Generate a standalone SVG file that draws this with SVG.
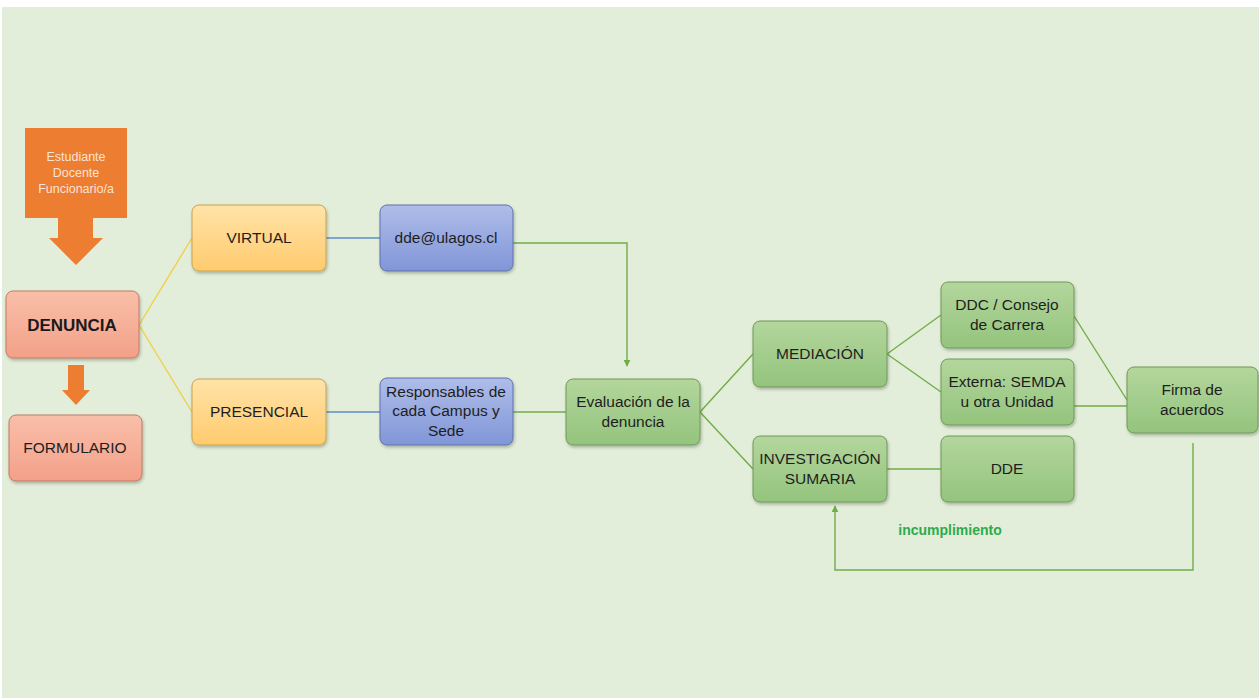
<svg xmlns="http://www.w3.org/2000/svg" width="1259" height="698" viewBox="0 0 1259 698">
<defs>
<linearGradient id="gS" x1="0" y1="0" x2="0" y2="1"><stop offset="0" stop-color="#F9BFA9"/><stop offset="1" stop-color="#F3A088"/></linearGradient>
<linearGradient id="gY" x1="0" y1="0" x2="0" y2="1"><stop offset="0" stop-color="#FFE3A8"/><stop offset="1" stop-color="#FFCB6E"/></linearGradient>
<linearGradient id="gB" x1="0" y1="0" x2="0" y2="1"><stop offset="0" stop-color="#AFBDE9"/><stop offset="1" stop-color="#8196D8"/></linearGradient>
<linearGradient id="gG" x1="0" y1="0" x2="0" y2="1"><stop offset="0" stop-color="#B3D69C"/><stop offset="1" stop-color="#94C47D"/></linearGradient>
<filter id="sh" x="-10%" y="-10%" width="130%" height="140%"><feDropShadow dx="1" dy="2" stdDeviation="1.5" flood-color="#000" flood-opacity="0.25"/></filter>
<marker id="ah" viewBox="0 0 10 10" refX="9" refY="5" markerWidth="5" markerHeight="5" orient="auto"><path d="M0,0 L10,5 L0,10 z" fill="#70AD47"/></marker>
</defs>
<style>
.t{font-family:"Liberation Sans",Arial,sans-serif;font-size:15.5px;fill:#1e1e1e;text-anchor:middle}
.b{stroke-width:1}
.s{fill:url(#gS);stroke:#C07A62}
.y{fill:url(#gY);stroke:#C9A24E}
.bl{fill:url(#gB);stroke:#5D70AE}
.g{fill:url(#gG);stroke:#6F9858}
.c{fill:none;stroke-width:1.4}
</style>
<rect x="0" y="0" width="1259" height="698" fill="#FFFFFF"/>
<rect x="2" y="7" width="1257" height="691" fill="#E2EED9"/>

<g id="connectors">
<line class="c" x1="139" y1="325" x2="192" y2="238" stroke="#F2CF4A"/>
<line class="c" x1="139" y1="325" x2="192" y2="412" stroke="#F2CF4A"/>
<line class="c" x1="326" y1="238" x2="380" y2="238" stroke="#5B8FC4"/>
<line class="c" x1="326" y1="412" x2="380" y2="412" stroke="#5B8FC4"/>
<polyline class="c" points="513,243 627,243 627,366" stroke="#70AD47" marker-end="url(#ah)"/>
<line class="c" x1="513" y1="412" x2="566" y2="412" stroke="#70AD47"/>
<line class="c" x1="700" y1="412" x2="753" y2="354" stroke="#70AD47"/>
<line class="c" x1="700" y1="412" x2="753" y2="469" stroke="#70AD47"/>
<line class="c" x1="887" y1="354" x2="941" y2="315" stroke="#70AD47"/>
<line class="c" x1="887" y1="354" x2="941" y2="392" stroke="#70AD47"/>
<line class="c" x1="887" y1="469" x2="941" y2="469" stroke="#70AD47"/>
<line class="c" x1="1074" y1="316" x2="1127" y2="400" stroke="#70AD47"/>
<line class="c" x1="1074" y1="406" x2="1127" y2="406" stroke="#70AD47"/>
<polyline class="c" points="1193,443 1193,570 835,570 835,506" stroke="#70AD47" marker-end="url(#ah)"/>
<text x="950" y="535" style="font-family:'Liberation Sans',Arial,sans-serif;font-size:14px;font-weight:bold;fill:#2EAA4E;text-anchor:middle">incumplimiento</text>
</g>

<g id="actors">
<path d="M25,128 H127 V218 H93 V238 H103 L76,265 L49,238 H58 V218 H25 Z" fill="#ED7D31"/>
<text class="t" x="76" y="161" style="font-size:12.5px;fill:#FBE3D4">Estudiante</text>
<text class="t" x="76" y="177" style="font-size:12.5px;fill:#FBE3D4">Docente</text>
<text class="t" x="76" y="193" style="font-size:12.5px;fill:#FBE3D4">Funcionario/a</text>
</g>

<g id="denuncia">
<rect class="s b" x="6" y="291" width="133" height="67" rx="7" filter="url(#sh)"/>
<text class="t" x="72" y="331" style="font-weight:bold;font-size:17px;fill:#1a1a1a">DENUNCIA</text>
</g>
<g id="arrow-formulario">
<path d="M68,365 H84 V390 H90 L76,405 L62,390 H68 Z" fill="#ED7D31"/>
</g>
<g id="formulario">
<rect class="s b" x="9" y="415" width="133" height="66" rx="7" filter="url(#sh)"/>
<text class="t" x="75" y="453">FORMULARIO</text>
</g>

<g id="virtual">
<rect class="y b" x="192" y="205" width="134" height="66" rx="7" filter="url(#sh)"/>
<text class="t" x="259" y="243">VIRTUAL</text>
</g>
<g id="presencial">
<rect class="y b" x="192" y="379" width="134" height="66" rx="7" filter="url(#sh)"/>
<text class="t" x="259" y="417">PRESENCIAL</text>
</g>
<g id="email">
<rect class="bl b" x="380" y="205" width="133" height="66" rx="7" filter="url(#sh)"/>
<text class="t" x="446" y="243">dde@ulagos.cl</text>
</g>
<g id="responsables">
<rect class="bl b" x="380" y="378" width="133" height="67" rx="7" filter="url(#sh)"/>
<text class="t" x="446" y="397">Responsables de</text>
<text class="t" x="446" y="416">cada Campus y</text>
<text class="t" x="446" y="436">Sede</text>
</g>
<g id="evaluacion">
<rect class="g b" x="566" y="379" width="134" height="66" rx="7" filter="url(#sh)"/>
<text class="t" x="633" y="407">Evaluación de la</text>
<text class="t" x="633" y="427">denuncia</text>
</g>
<g id="mediacion">
<rect class="g b" x="753" y="321" width="134" height="66" rx="7" filter="url(#sh)"/>
<text class="t" x="820" y="359">MEDIACIÓN</text>
</g>
<g id="investigacion">
<rect class="g b" x="753" y="436" width="134" height="66" rx="7" filter="url(#sh)"/>
<text class="t" x="820" y="464">INVESTIGACIÓN</text>
<text class="t" x="820" y="484">SUMARIA</text>
</g>
<g id="ddc">
<rect class="g b" x="941" y="282" width="133" height="66" rx="7" filter="url(#sh)"/>
<text class="t" x="1007" y="310">DDC / Consejo</text>
<text class="t" x="1007" y="330">de Carrera</text>
</g>
<g id="externa">
<rect class="g b" x="941" y="359" width="133" height="66" rx="7" filter="url(#sh)"/>
<text class="t" x="1007" y="387">Externa: SEMDA</text>
<text class="t" x="1007" y="407">u otra Unidad</text>
</g>
<g id="dde">
<rect class="g b" x="941" y="436" width="133" height="66" rx="7" filter="url(#sh)"/>
<text class="t" x="1007" y="474">DDE</text>
</g>
<g id="firma">
<rect class="g b" x="1127" y="367" width="131" height="66" rx="7" filter="url(#sh)"/>
<text class="t" x="1192" y="395">Firma de</text>
<text class="t" x="1192" y="415">acuerdos</text>
</g>
</svg>
